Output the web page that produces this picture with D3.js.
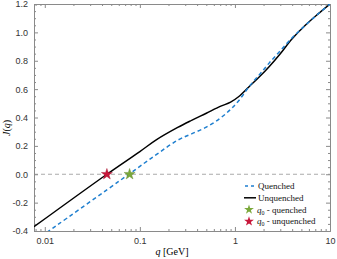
<!DOCTYPE html>
<html>
<head>
<meta charset="utf-8">
<script src="https://cdn.jsdelivr.net/npm/d3@7"></script>
<style>
  body { margin: 0; background: #fff; }
  svg { display: block; }
</style>
</head>
<body>
<svg width="337" height="259"></svg>
<script>
// ### data ###
var qUnq = [0.0077, 0.045, 0.1, 0.15, 0.25, 0.35, 0.5, 0.7, 0.9, 1.1, 1.4, 1.8, 2.3, 3.0, 4.0, 5.5, 7.5, 10];
var jUnq = [-0.37, 0, 0.16, 0.244, 0.33, 0.38, 0.43, 0.478, 0.508, 0.548, 0.615, 0.685, 0.76, 0.85, 0.955, 1.05, 1.13, 1.2];
var qQue = [0.0105, 0.0766, 0.15, 0.25, 0.35, 0.5, 0.7, 0.9, 1.1, 1.4, 1.8, 2.3, 3.0, 4.0, 5.5, 7.5, 10];
var jQue = [-0.41, 0, 0.14, 0.24, 0.285, 0.332, 0.395, 0.457, 0.52, 0.615, 0.70, 0.785, 0.87, 0.962, 1.05, 1.13, 1.2];
var q0 = [0.078, 0.045];            // quenched, unquenched
var q0Colors = ['#7aa83a', '#c8173a'];
var xTicks = [0.01, 0.1, 1, 10];
var yTicks = [-0.4, -0.2, 0, 0.2, 0.4, 0.6, 0.8, 1.0, 1.2];
var legendLabels = ['Quenched', 'Unquenched', ' - quenched', ' - unquenched'];

// ### canvas ###
var margin = {top: 4, right: 7, bottom: 28, left: 34};
var width = 337 - margin.left - margin.right;
var height = 259 - margin.top - margin.bottom;
var svg = d3.select('svg');
var g = svg.append('g').attr('transform', `translate(${margin.left},${margin.top})`);

var xScale = d3.scaleLog().domain([0.0077, 10]).range([0, width]);
var yScale = d3.scaleLinear().domain([-0.4, 1.2]).range([height, 0]);

var axisColor = '#8a8a8a';
var tickFont = '"Liberation Sans", Arial, sans-serif';
var serif = '"Liberation Serif", "DejaVu Serif", serif';

g.append('clipPath').attr('id', 'clip')
  .append('rect').attr('width', width).attr('height', height);

// zero line
g.append('line')
  .attr('x1', 0).attr('x2', width)
  .attr('y1', yScale(0)).attr('y2', yScale(0))
  .attr('stroke', '#aaa').attr('stroke-width', 1.1)
  .attr('stroke-dasharray', '4,3');

// ### axes (ticks inside, mirrored on top/right) ###
var xMinor = [];
for (var e = -3; e < 1; e++) for (var k = 2; k < 10; k++) {
  var v = k * Math.pow(10, e);
  if (v >= 0.0077 && v <= 10) xMinor.push(v);
}
var yMinor = d3.range(-0.4, 1.2001, 0.05).filter(v => Math.abs(Math.round(v * 5) - v * 5) > 0.01);

function drawAxis(axis, pos) {
  var a = g.append('g').attr('transform', pos).call(axis);
  a.selectAll('path, line').attr('stroke', axisColor);
  a.selectAll('text').attr('fill', '#333').style('font-family', tickFont).style('font-size', '9px');
  return a;
}
drawAxis(d3.axisBottom(xScale).tickValues(xTicks).tickSizeInner(-4).tickSizeOuter(0)
  .tickPadding(7).tickFormat(d => d3.format('')(d)), `translate(0,${height})`);
drawAxis(d3.axisBottom(xScale).tickValues(xMinor).tickSizeInner(-2).tickSizeOuter(0).tickFormat(''), `translate(0,${height})`);
drawAxis(d3.axisTop(xScale).tickValues(xTicks).tickSizeInner(-4).tickSizeOuter(0).tickFormat(''), 'translate(0,0)');
drawAxis(d3.axisTop(xScale).tickValues(xMinor).tickSizeInner(-2).tickSizeOuter(0).tickFormat(''), 'translate(0,0)');
drawAxis(d3.axisLeft(yScale).tickValues(yTicks).tickSizeInner(-4).tickSizeOuter(0)
  .tickPadding(6).tickFormat(d => d3.format('.1f')(d).replace('\u2212', '-')), 'translate(0,0)');
drawAxis(d3.axisLeft(yScale).tickValues(yMinor).tickSizeInner(-2).tickSizeOuter(0).tickFormat(''), 'translate(0,0)');
drawAxis(d3.axisRight(yScale).tickValues(yTicks).tickSizeInner(-4).tickSizeOuter(0).tickFormat(''), `translate(${width},0)`);
drawAxis(d3.axisRight(yScale).tickValues(yMinor).tickSizeInner(-2).tickSizeOuter(0).tickFormat(''), `translate(${width},0)`);

// ### curves ###
var line = d3.line()
  .x(d => xScale(d[0]))
  .y(d => yScale(d[1]))
  .curve(d3.curveCatmullRom.alpha(0.5));

var plot = g.append('g').attr('clip-path', 'url(#clip)');
plot.append('path')
  .attr('d', line(d3.zip(qUnq, jUnq)))
  .attr('fill', 'none').attr('stroke', '#000').attr('stroke-width', 1.5);
plot.append('path')
  .attr('d', line(d3.zip(qQue, jQue)))
  .attr('fill', 'none').attr('stroke', '#1f7fcf').attr('stroke-width', 1.5)
  .attr('stroke-dasharray', '4,3');

// ### stars at q0 ###
var star = d3.symbol().type(d3.symbolStar).size(38);
g.selectAll('.q0')
  .data(q0)
  .enter()
  .append('path')
  .attr('class', 'q0')
  .attr('d', star)
  .attr('transform', d => `translate(${xScale(d)},${yScale(0)})`)
  .attr('fill', (d, i) => q0Colors[i])
  .attr('stroke', (d, i) => d3.color(q0Colors[i]).darker(0.6)).attr('stroke-width', 0.4);

// ### legend ###
var lg = svg.append('g').attr('transform', 'translate(244,186)');
var rowH = 11.8;
lg.append('line').attr('x1', 1).attr('x2', 11).attr('y1', 0).attr('y2', 0)
  .attr('stroke', '#1f7fcf').attr('stroke-width', 1.5).attr('stroke-dasharray', '3,3');
lg.append('line').attr('x1', 0).attr('x2', 12).attr('y1', rowH).attr('y2', rowH)
  .attr('stroke', '#000').attr('stroke-width', 1.5);
[0, 1].forEach(function(i) {
  lg.append('path').attr('d', d3.symbol().type(d3.symbolStar).size(30)())
    .attr('transform', `translate(5,${rowH * (2 + i)})`)
    .attr('fill', q0Colors[i]);
});
legendLabels.forEach(function(t, i) {
  var txt = lg.append('text')
    .attr('x', i < 2 ? 14 : 13).attr('y', rowH * i + 3)
    .style('font-family', serif).style('font-size', '9px').attr('fill', '#111');
  if (i >= 2) {
    txt.append('tspan').style('font-style', 'italic').text('q');
    txt.append('tspan').attr('dy', 2).style('font-size', '6px').text('0');
    txt.append('tspan').attr('dy', -2).text(t);
  } else {
    txt.text(t);
  }
});

// ### axis titles ###
var yl = svg.append('text')
  .attr('transform', 'translate(10,128) rotate(-90)')
  .attr('text-anchor', 'middle')
  .style('font-family', serif).style('font-size', '10px');
yl.append('tspan').style('font-style', 'italic').text('J');
yl.append('tspan').text('(');
yl.append('tspan').style('font-style', 'italic').text('q');
yl.append('tspan').text(')');

var xl = svg.append('text')
  .attr('x', 172).attr('y', 255)
  .attr('text-anchor', 'middle')
  .style('font-family', serif).style('font-size', '10px');
xl.append('tspan').style('font-style', 'italic').text('q');
xl.append('tspan').text(' [GeV]');
</script>
</body>
</html>
